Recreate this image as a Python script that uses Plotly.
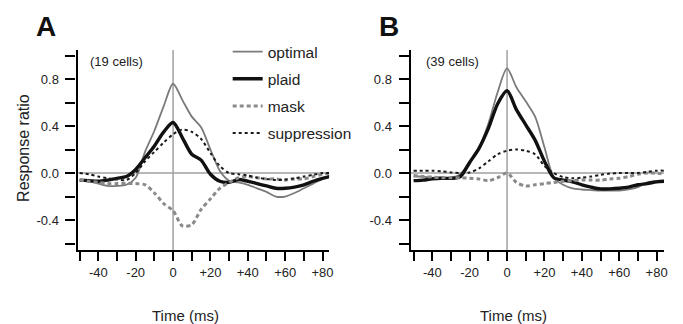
import plotly.graph_objects as go

# ---------------- data ----------------
time_ms = [-50, -45, -40, -35, -30, -25, -20, -15, -10, -5, 0, 5, 10, 15,
           20, 25, 30, 35, 40, 45, 50, 55, 60, 65, 70, 75, 80, 84]

# Panel A (19 cells)
a_optimal = [-0.06, -0.07, -0.09, -0.11, -0.11, -0.10, -0.04, 0.18, 0.36, 0.57, 0.76,
             0.62, 0.48, 0.39, 0.20, 0.02, -0.065, -0.08, -0.10, -0.13, -0.16, -0.20,
             -0.20, -0.17, -0.13, -0.09, -0.05, -0.02]
a_plaid = [-0.06, -0.065, -0.07, -0.06, -0.045, -0.03, 0.03, 0.13, 0.23, 0.35, 0.43,
           0.30, 0.16, 0.11, -0.01, -0.07, -0.08, -0.055, -0.07, -0.09, -0.11, -0.13,
           -0.13, -0.12, -0.10, -0.07, -0.045, -0.03]
a_mask = [-0.06, -0.07, -0.08, -0.09, -0.09, -0.09, -0.09, -0.10, -0.17, -0.26, -0.32,
          -0.45, -0.44, -0.31, -0.22, -0.13, -0.08, -0.04, -0.03, -0.04, -0.05, -0.05,
          -0.06, -0.05, -0.05, -0.03, -0.01, 0.0]
a_suppression = [0.0, -0.01, -0.03, -0.045, -0.055, -0.06, 0.0, 0.10, 0.18, 0.26, 0.33,
                 0.37, 0.35, 0.29, 0.17, 0.06, 0.0, -0.01, -0.02, -0.04, -0.05, -0.06,
                 -0.055, -0.045, -0.03, -0.015, 0.0, 0.0]

# Panel B (39 cells)
b_optimal = [-0.03, -0.03, -0.04, -0.04, -0.04, -0.01, 0.10, 0.22, 0.42, 0.69, 0.89,
             0.73, 0.61, 0.48, 0.22, -0.04, -0.10, -0.13, -0.14, -0.145, -0.15, -0.15,
             -0.15, -0.14, -0.12, -0.08, -0.07, -0.07]
b_plaid = [-0.065, -0.06, -0.05, -0.045, -0.045, -0.03, 0.09, 0.21, 0.38, 0.59, 0.70,
           0.54, 0.41, 0.28, 0.10, -0.04, -0.06, -0.075, -0.10, -0.12, -0.135, -0.135,
           -0.13, -0.12, -0.10, -0.09, -0.075, -0.07]
b_mask = [-0.02, -0.03, -0.035, -0.04, -0.04, -0.04, -0.045, -0.05, -0.065, -0.04, 0.0,
          -0.08, -0.11, -0.10, -0.09, -0.08, -0.07, -0.065, -0.06, -0.06, -0.06, -0.05,
          -0.045, -0.03, -0.01, 0.0, 0.0, -0.01]
b_suppression = [0.02, 0.02, 0.02, 0.015, 0.005, 0.0, 0.005, 0.04, 0.10, 0.16, 0.19,
                 0.20, 0.19, 0.16, 0.06, 0.0, -0.035, -0.045, -0.04, -0.03, -0.015, -0.005,
                 0.0, 0.0, 0.0, 0.01, 0.02, 0.02]

series_names = ["optimal", "plaid", "mask", "suppression"]
panel_letters = ["A", "B"]
cell_counts = ["(19 cells)", "(39 cells)"]
y_tickvals = [-0.6, -0.4, -0.2, 0.0, 0.2, 0.4, 0.6, 0.8, 1.0]
y_ticktext = ["", "-0.4", "", "0.0", "", "0.4", "", "0.8", ""]
x_tickvals = [-50, -40, -30, -20, -10, 0, 10, 20, 30, 40, 50, 60, 70, 80]
x_ticktext = ["", "-40", "", "-20", "", "0", "", "+20", "", "+40", "", "+60", "", "+80"]

# ---------------- style ----------------
OFF = 8                      # page body margin of the browser
W, H = 683 - OFF, 324 - OFF  # figure fills the rest of the window
FONT = "Liberation Sans, Arial, sans-serif"
styles = {
    "optimal": dict(color="#7a7a7a", width=1.8, dash="solid"),
    "plaid": dict(color="#111111", width=3.4, dash="solid"),
    "mask": dict(color="#8a8a8a", width=3.0, dash="4px,3px"),
    "suppression": dict(color="#1a1a1a", width=2.0, dash="3px,3px"),
}

def px_x(p):
    return (p - OFF) / W

def px_y(p):
    return 1 - (p - OFF) / H

fig = go.Figure()

panels = [
    (dict(optimal=a_optimal, plaid=a_plaid, mask=a_mask, suppression=a_suppression), "x", "y"),
    (dict(optimal=b_optimal, plaid=b_plaid, mask=b_mask, suppression=b_suppression), "x2", "y2"),
]
for i, (data, xa, ya) in enumerate(panels):
    for name in series_names:
        st = styles[name]
        fig.add_trace(go.Scatter(
            x=time_ms, y=data[name], mode="lines", name=name,
            xaxis=xa, yaxis=ya, showlegend=(i == 0), legendgroup=name,
            line=dict(color=st["color"], width=st["width"], dash=st["dash"],
                      shape="spline", smoothing=0.8),
            hoverinfo="skip"))

y_dom = [px_y(250), px_y(50)]
axis_common = dict(showgrid=False, zeroline=False, showline=True, linewidth=2.2,
                   linecolor="black", ticks="outside", tickwidth=2, tickcolor="black",
                   tickfont=dict(family=FONT, size=13, color="#222"))

fig.update_layout(
    width=W, height=H, margin=dict(l=0, r=0, t=0, b=0),
    paper_bgcolor="white", plot_bgcolor="white",
    font=dict(family=FONT, color="#222"),
    xaxis=dict(domain=[px_x(78), px_x(331)], range=[-51.1, 83.5], tickvals=x_tickvals,
               ticktext=x_ticktext, ticklen=9, anchor="y", **axis_common),
    yaxis=dict(domain=y_dom, range=[-0.655, 1.047], tickvals=y_tickvals,
               ticktext=y_ticktext, ticklen=10, anchor="x", ticklabelstandoff=4, **axis_common),
    xaxis2=dict(domain=[px_x(413), px_x(668)], range=[-51.6, 84.0], tickvals=x_tickvals,
                ticktext=x_ticktext, ticklen=9, anchor="y2", **axis_common),
    yaxis2=dict(domain=y_dom, range=[-0.655, 1.047], tickvals=y_tickvals,
                ticktext=y_ticktext, ticklen=10, anchor="x2", ticklabelstandoff=4, **axis_common),
    legend=dict(x=px_x(229), y=px_y(35), xanchor="left", yanchor="top",
                bgcolor="rgba(0,0,0,0)", font=dict(family=FONT, size=15.5, color="#222"),
                traceorder="grouped", tracegroupgap=4, itemwidth=30),
    showlegend=True,
)

shapes = []
for xa, ya in [("x", "y"), ("x2", "y2")]:
    shapes.append(dict(type="line", xref=xa, yref=ya + " domain", x0=0, x1=0, y0=0, y1=1,
                       line=dict(color="#a0a0a0", width=1.5), layer="below"))
    shapes.append(dict(type="line", xref=xa + " domain", yref=ya, x0=0, x1=1, y0=0, y1=0,
                       line=dict(color="#a0a0a0", width=1.5), layer="below"))
fig.update_layout(shapes=shapes)

ann = []
for letter, xp in zip(panel_letters, [46, 391]):
    ann.append(dict(text="<b>" + letter + "</b>", x=px_x(xp), y=px_y(27), xref="paper",
                    yref="paper", showarrow=False, font=dict(family=FONT, size=28, color="#111"),
                    xanchor="center", yanchor="middle"))
for txt, xp in zip(cell_counts, [88, 426]):
    ann.append(dict(text=txt, x=px_x(xp), y=px_y(61), xref="paper", yref="paper",
                    showarrow=False, font=dict(family=FONT, size=13, color="#222"),
                    xanchor="left", yanchor="middle"))
for xp in [187, 517]:
    ann.append(dict(text="Time (ms)", x=px_x(xp), y=px_y(315), xref="paper", yref="paper",
                    showarrow=False, font=dict(family=FONT, size=15, color="#222"),
                    xanchor="center", yanchor="middle"))
ann.append(dict(text="Response ratio", x=px_x(24), y=px_y(148), xref="paper", yref="paper",
                showarrow=False, textangle=-90, font=dict(family=FONT, size=16, color="#222"),
                xanchor="center", yanchor="middle"))
fig.update_layout(annotations=ann)

fig.write_html("out.html")
